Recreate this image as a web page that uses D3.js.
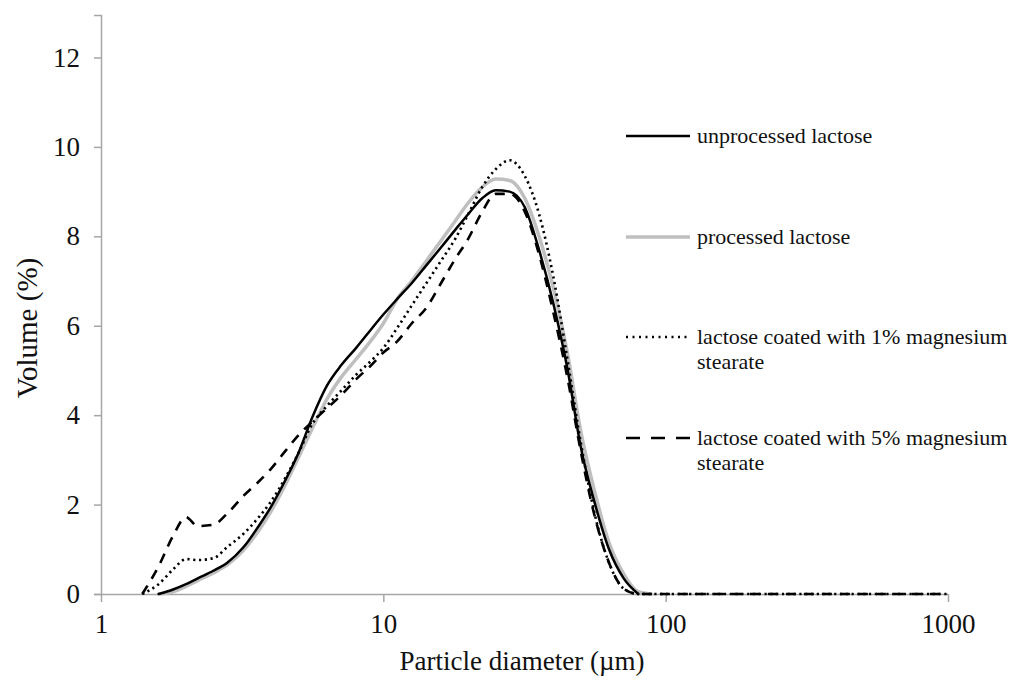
<!DOCTYPE html>
<html><head><meta charset="utf-8">
<script src="https://cdn.jsdelivr.net/npm/d3@7"></script>
<style>body{margin:0;background:#fff}</style>
</head><body><svg id="c" width="1018" height="685"></svg>
<script>
const diameters = [1.4,1.6,1.8,2.0,2.2,2.5,2.8,3.2,3.6,4.0,4.5,5.0,5.6,6.3,7.1,8,9,10,11.2,12.6,14.2,16,18,20,22.4,25,28,31.7,35.6,40,45,50,56,63,71,80,89,100,200,300,500,700,1000];
const unprocessed = [null,0,0.1,0.22,0.35,0.52,0.7,1.05,1.5,1.95,2.55,3.15,3.95,4.65,5.12,5.5,5.9,6.25,6.6,6.95,7.35,7.75,8.15,8.5,8.85,9.03,9.0,8.65,7.7,6.5,5.0,3.3,2.05,1.0,0.35,0,null,null,null,null,null,null,null];
const processed = [null,0,0.05,0.17,0.3,0.47,0.65,0.98,1.4,1.85,2.45,3.05,3.7,4.35,4.85,5.25,5.65,6.05,6.6,7.0,7.45,7.9,8.35,8.75,9.1,9.28,9.25,8.85,8.0,6.85,5.35,3.65,2.3,1.15,0.45,0.05,0,null,null,null,null,null,null];
const coated1 = [0,0.22,0.55,0.78,0.76,0.8,1.05,1.35,1.7,2.07,2.6,3.15,3.8,4.2,4.55,4.9,5.2,5.5,5.95,6.45,6.95,7.45,7.95,8.5,9.1,9.5,9.7,9.35,8.5,7.1,5.2,3.4,1.8,0.7,0.12,0,0,0,0,0,0,0,0];
const coated5 = [0,0.62,1.3,1.72,1.52,1.55,1.8,2.2,2.5,2.8,3.2,3.55,3.85,4.15,4.45,4.8,5.1,5.4,5.65,6.05,6.4,6.95,7.5,7.95,8.55,8.95,8.95,8.55,7.6,6.3,4.8,3.2,1.75,0.7,0.12,0,0,0,0,0,0,0,0];
const seriesNames = ["unprocessed lactose","processed lactose","lactose coated with 1% magnesium|stearate","lactose coated with 5% magnesium|stearate"];
const xTicks = [1,10,100,1000];
const yTicks = [0,2,4,6,8,10,12];

const svg = d3.select("#c");
const x = d3.scaleLog().domain([1,1000]).range([101,948]);
const y = d3.scaleLinear().domain([0,12.95]).range([594,15]);
const axisColor = "#a6a6a6";
const font = "'Liberation Serif','Times New Roman',serif";

const gx = svg.append("g").attr("transform","translate(0,594)")
  .call(d3.axisBottom(x).tickValues(xTicks).tickSize(8).tickPadding(12).tickFormat(d3.format("d")));
const gy = svg.append("g").attr("transform","translate(101,0)")
  .call(d3.axisLeft(y).tickValues(yTicks).tickSize(7).tickPadding(14).tickFormat(d3.format("d")));
[gx,gy].forEach(g=>{
  g.select(".domain").attr("stroke",axisColor).attr("stroke-width",1.5);
  g.selectAll(".tick line").attr("stroke",axisColor).attr("stroke-width",1.5);
  g.selectAll(".tick text").attr("fill","#111").style("font-family",font).style("font-size","27px");
});
gx.select(".domain").attr("d","M101,0.5H948");

svg.append("text").attr("x",522).attr("y",670).attr("text-anchor","middle")
  .style("font-family",font).style("font-size","27px").attr("fill","#111")
  .text("Particle diameter (µm)");
svg.append("text").attr("transform","translate(37,328) rotate(-90)").attr("text-anchor","middle")
  .style("font-family",font).style("font-size","29px").attr("fill","#111")
  .text("Volume (%)");

const styles = [
  {data:processed, color:"#bfbfbf", w:3.5, dash:null, cap:"round"},
  {data:unprocessed, color:"#000", w:2.5, dash:null, cap:"round"},
  {data:coated1, color:"#000", w:2.6, dash:"2.2,3.6", cap:"butt"},
  {data:coated5, color:"#000", w:2.6, dash:"10,8", cap:"butt"}
];
const line = d3.line().defined(d=>d[1]!==null).x(d=>x(d[0])).y(d=>y(d[1])).curve(d3.curveMonotoneX);
styles.forEach(s=>{
  const pts = diameters.map((d,i)=>[d,s.data[i]]);
  svg.append("path").attr("d",line(pts)).attr("fill","none").attr("stroke",s.color)
    .attr("stroke-width",s.w).attr("stroke-dasharray",s.dash).attr("stroke-linecap",s.cap)
    .attr("stroke-linejoin","round");
});

const legendY = [136,237,337,438];
const legendStyles = [styles[1],styles[0],styles[2],styles[3]];
seriesNames.forEach((name,i)=>{
  const s = legendStyles[i];
  const ly = legendY[i];
  svg.append("line").attr("x1",626).attr("x2",690).attr("y1",ly).attr("y2",ly)
    .attr("stroke",s.color).attr("stroke-width",i===2?2.4:s.w).attr("stroke-dasharray",i===3?"14,11":(i===2?"2,4.5":null));
  name.split("|").forEach((p,j)=>{
    svg.append("text").attr("x",697).attr("y",ly+7+j*25).style("font-family",font)
      .style("font-size","22px").attr("fill","#111").text(p);
  });
});
</script></body></html>
